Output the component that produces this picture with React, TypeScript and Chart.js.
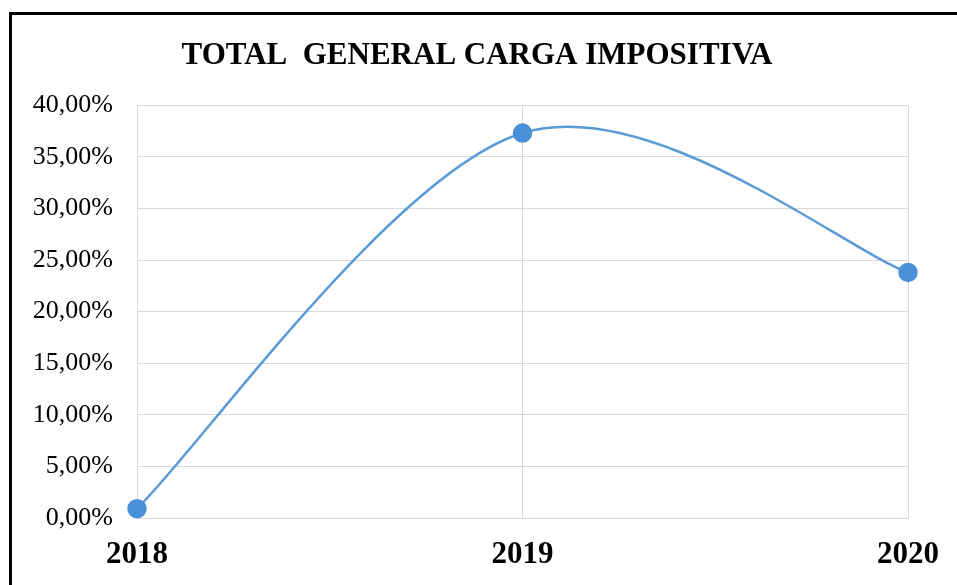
import React, { useEffect, useRef } from "react";
import { Chart, registerables } from "chart.js";

Chart.register(...registerables);

const titleText = "TOTAL  GENERAL CARGA IMPOSITIVA";
const years = ["2018", "2019", "2020"];
const cargaValues = [0.9, 37.3, 23.8];
const yMin = 0;
const yMax = 40;
const yStep = 5;

const formatPct = (v: number) => v.toFixed(2).replace(".", ",") + "%";
const serif = "'Liberation Serif', 'Times New Roman', serif";

// Excel-style smoothing: control handles = (next - prev) / 6 in pixel space
const excelSmooth = {
  id: "excelSmooth",
  beforeDatasetsDraw(chart: any) {
    chart.data.datasets.forEach((_ds: any, di: number) => {
      const meta = chart.getDatasetMeta(di);
      const line: any = meta.dataset;
      const pts: any[] = meta.data;
      if (!line || !pts || pts.length < 2) return;
      if (typeof line.updateControlPoints === "function") {
        line.updateControlPoints(chart.chartArea, "x");
      }
      for (let i = 0; i < pts.length; i++) {
        const p = pts[i];
        const prev = pts[i - 1] || p;
        const next = pts[i + 1] || p;
        const dx = (next.x - prev.x) / 6;
        const dy = (next.y - prev.y) / 6;
        p.cp1x = p.x - dx;
        p.cp1y = p.y - dy;
        p.cp2x = p.x + dx;
        p.cp2y = p.y + dy;
      }
      line._path = undefined;
    });
  },
};

export default function App() {
  const canvasRef = useRef<HTMLCanvasElement | null>(null);

  useEffect(() => {
    if (!canvasRef.current) return;
    const chart = new Chart(canvasRef.current, {
      type: "line",
      data: {
        labels: years,
        datasets: [
          {
            label: "Carga impositiva",
            data: cargaValues,
            borderColor: "#5b9bd5",
            borderWidth: 2.5,
            backgroundColor: "#4a90d9",
            pointBackgroundColor: "#4a90d9",
            pointBorderColor: "#4a90d9",
            pointRadius: 8.5,
            pointHoverRadius: 8.5,
            tension: 0.4,
            fill: false,
            clip: false as any,
            yAxisID: "y",
          },
        ],
      },
      plugins: [excelSmooth],
      options: {
        responsive: true,
        maintainAspectRatio: false,
        animation: false,
        elements: { line: { capBezierPoints: false } },
        layout: { padding: { left: 0, right: 3, top: 0, bottom: 0 } },
        plugins: {
          legend: { display: false },
          tooltip: { enabled: false },
          title: {
            display: true,
            text: titleText,
            color: "#000",
            font: { family: serif, size: 31, weight: "bold" },
            padding: { top: 37, bottom: 31 },
          },
        },
        scales: {
          x: {
            grid: { color: "#d9d9d9", drawTicks: false, lineWidth: 1 },
            border: { color: "#d9d9d9" },
            ticks: {
              color: "#000",
              padding: 18,
              maxRotation: 0,
              font: { family: serif, size: 31, weight: "bold" },
            },
            afterFit: (axis: any) => {
              axis.height = 67;
            },
          },
          y: {
            min: yMin,
            max: yMax,
            grid: { color: "#d9d9d9", drawTicks: false, lineWidth: 1 },
            border: { color: "#d9d9d9" },
            ticks: {
              stepSize: yStep,
              color: "#000",
              padding: 24,
              font: { family: serif, size: 26 },
              callback: (v: any) => formatPct(Number(v)),
            },
            afterFit: (axis: any) => {
              axis.width = 137;
            },
          },
          yRightSpace: {
            position: "right",
            display: true,
            grid: { display: false, drawTicks: false },
            border: { display: false },
            ticks: { display: false },
            afterFit: (axis: any) => {
              axis.width = 46;
            },
          },
        },
      },
    });
    return () => chart.destroy();
  }, []);

  return (
    <div
      style={{
        position: "fixed",
        left: 0,
        top: 0,
        width: 957,
        height: 585,
        overflow: "hidden",
        background: "#fff",
      }}
    >
      <div
        style={{
          position: "absolute",
          left: 9,
          top: 12,
          right: -20,
          bottom: -20,
          borderTop: "3px solid #000",
          borderLeft: "3px solid #000",
        }}
      />
      <canvas ref={canvasRef} style={{ position: "absolute", left: 0, top: 0, width: 957, height: 585 }} />
    </div>
  );
}
